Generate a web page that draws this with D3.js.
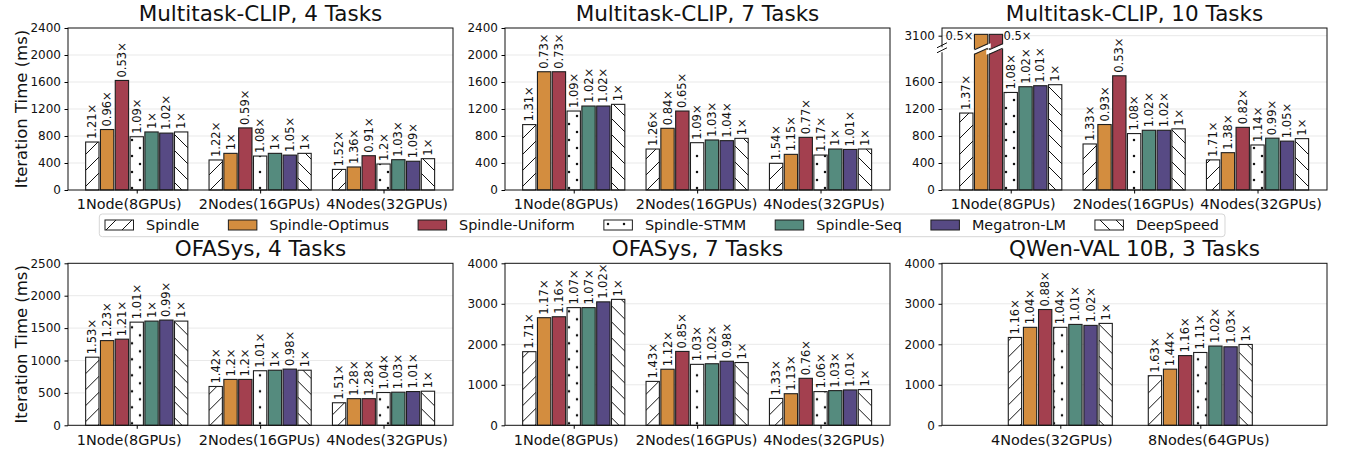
<!DOCTYPE html>
<html>
<head>
<meta charset="utf-8">
<script src="https://cdn.jsdelivr.net/npm/d3@7"></script>
<style>
  body { margin: 0; background: #fff; }
  svg { display: block; font-family: "DejaVu Sans", sans-serif; }
</style>
</head>
<body>
<svg id="chart"></svg>
<script>
const width = 1346;
const height = 451;

// ---------- data ----------
const series = ["Spindle", "Spindle-Optimus", "Spindle-Uniform", "Spindle-STMM", "Spindle-Seq", "Megatron-LM", "DeepSpeed"];

const nodeGroups3 = ["1Node(8GPUs)", "2Nodes(16GPUs)", "4Nodes(32GPUs)"];
const nodeGroupsQwen = ["4Nodes(32GPUs)", "8Nodes(64GPUs)"];

const clip4Times = [
  [711, 896, 1623, 789, 860, 843, 860],
  [445, 543, 920, 503, 543, 517, 543],
  [305, 341, 508, 385, 449, 426, 464]
];
const clip4Labels = [
  ["1.21×", "0.96×", "0.53×", "1.09×", "1×", "1.02×", "1×"],
  ["1.22×", "1×", "0.59×", "1.08×", "1×", "1.05×", "1×"],
  ["1.52×", "1.36×", "0.91×", "1.2×", "1.03×", "1.09×", "1×"]
];

const clip7Times = [
  [969, 1752, 1752, 1170, 1244, 1244, 1269],
  [607, 914, 1170, 701, 741, 731, 765],
  [395, 528, 780, 518, 607, 601, 607]
];
const clip7Labels = [
  ["1.31×", "0.73×", "0.73×", "1.09×", "1.02×", "1.02×", "1×"],
  ["1.26×", "0.84×", "0.65×", "1.09×", "1.03×", "1.04×", "1×"],
  ["1.54×", "1.15×", "0.77×", "1.17×", "1×", "1.01×", "1×"]
];

const clip10Times = [
  [1140, 3120, 3120, 1445, 1530, 1545, 1560],
  [682, 970, 1692, 836, 885, 885, 906],
  [446, 553, 928, 667, 768, 724, 761]
];
const clip10Labels = [
  ["1.37×", "0.5×", "0.5×", "1.08×", "1.02×", "1.01×", "1×"],
  ["1.33×", "0.93×", "0.53×", "1.08×", "1.02×", "1.02×", "1×"],
  ["1.71×", "1.38×", "0.82×", "1.14×", "0.99×", "1.05×", "1×"]
];

const ofa4Times = [
  [1051, 1307, 1329, 1592, 1608, 1624, 1608],
  [599, 708, 708, 842, 850, 867, 850],
  [348, 411, 411, 506, 511, 521, 526]
];
const ofa4Labels = [
  ["1.53×", "1.23×", "1.21×", "1.01×", "1×", "0.99×", "1×"],
  ["1.42×", "1.2×", "1.2×", "1.01×", "1×", "0.98×", "1×"],
  ["1.51×", "1.28×", "1.28×", "1.04×", "1.03×", "1.01×", "1×"]
];

const ofa7Times = [
  [1818, 2657, 2680, 2906, 2906, 3048, 3109],
  [1084, 1384, 1824, 1505, 1520, 1582, 1550],
  [663, 780, 1160, 832, 856, 873, 882]
];
const ofa7Labels = [
  ["1.71×", "1.17×", "1.16×", "1.07×", "1.07×", "1.02×", "1×"],
  ["1.43×", "1.12×", "0.85×", "1.03×", "1.02×", "0.98×", "1×"],
  ["1.33×", "1.13×", "0.76×", "1.06×", "1.03×", "1.01×", "1×"]
];

const qwenTimes = [
  [2169, 2419, 2859, 2419, 2491, 2467, 2516],
  [1225, 1386, 1721, 1798, 1957, 1938, 1996]
];
const qwenLabels = [
  ["1.16×", "1.04×", "0.88×", "1.04×", "1.01×", "1.02×", "1×"],
  ["1.63×", "1.44×", "1.16×", "1.11×", "1.02×", "1.03×", "1×"]
];

const ticks2400 = [0, 400, 800, 1200, 1600, 2000, 2400];
const ticksBroken = [0, 400, 800, 1200, 1600, 3100];
const ticks2500 = [0, 500, 1000, 1500, 2000, 2500];
const ticks4000 = [0, 1000, 2000, 3000, 4000];

// ---------- styles ----------
const fills = ["url(#hatchFwd)", "#D38D3F", "#A3404F", "url(#hatchDots)", "#558B7E", "#574A84", "url(#hatchBack)"];

const svg = d3.select("#chart").attr("width", width).attr("height", height);

const defs = svg.append("defs");
const hatch = 16;
const fwd = defs.append("pattern").attr("id", "hatchFwd").attr("patternUnits", "userSpaceOnUse")
  .attr("width", hatch).attr("height", hatch);
fwd.append("rect").attr("width", hatch).attr("height", hatch).attr("fill", "#fff");
fwd.append("path").attr("d", `M0,${hatch} L${hatch},0 M-4,4 L4,-4 M${hatch - 4},${hatch + 4} L${hatch + 4},${hatch - 4}`)
  .attr("stroke", "#111").attr("stroke-width", 1);
const back = defs.append("pattern").attr("id", "hatchBack").attr("patternUnits", "userSpaceOnUse")
  .attr("width", hatch).attr("height", hatch);
back.append("rect").attr("width", hatch).attr("height", hatch).attr("fill", "#fff");
back.append("path").attr("d", `M0,0 L${hatch},${hatch} M-4,${hatch - 4} L4,${hatch + 4} M${hatch - 4},-4 L${hatch + 4},4`)
  .attr("stroke", "#111").attr("stroke-width", 1);
const dots = defs.append("pattern").attr("id", "hatchDots").attr("patternUnits", "userSpaceOnUse")
  .attr("width", hatch).attr("height", hatch);
dots.append("rect").attr("width", hatch).attr("height", hatch).attr("fill", "#fff");
[[0, 0], [hatch, 0], [0, hatch], [hatch, hatch], [hatch / 2, hatch / 2]].forEach(([cx, cy]) => {
  dots.append("circle").attr("cx", cx).attr("cy", cy).attr("r", 1.25).attr("fill", "#111");
});

// ---------- panels ----------
const panelW = 385;
const panelH = 162;
const lefts = [68, 505, 942];
const tops = [28, 263.3];
const dom3 = [-0.557, 2.563];
// tick labels sit a little off the group centres in the original
const shift3 = [-8, -1, 3];
const shiftQwen = [-9, 8];

function linY(max) {
  return d3.scaleLinear().domain([0, max]).range([panelH, 0]);
}
// broken axis: lower part 0-2100 keeps the 2400 scale, top part holds ~3100
const brokenY = d3.scaleLinear().domain([0, 2100, 2950, 3215]).range([panelH, panelH - 2100 * panelH / 2400, 17.7, 0]);

const panels = [
  { title: "Multitask-CLIP, 4 Tasks", left: lefts[0], top: tops[0], groups: nodeGroups3, times: clip4Times, labels: clip4Labels, y: linY(2400), ticks: ticks2400, xd: dom3, pitch: 0.12, bw: 0.108, shift: shift3, ylabel: true },
  { title: "Multitask-CLIP, 7 Tasks", left: lefts[1], top: tops[0], groups: nodeGroups3, times: clip7Times, labels: clip7Labels, y: linY(2400), ticks: ticks2400, xd: dom3, pitch: 0.12, bw: 0.108, shift: shift3 },
  { title: "Multitask-CLIP, 10 Tasks", left: lefts[2], top: tops[0], groups: nodeGroups3, times: clip10Times, labels: clip10Labels, y: brokenY, ticks: ticksBroken, xd: dom3, pitch: 0.12, bw: 0.108, shift: shift3, broken: 2100 },
  { title: "OFASys, 4 Tasks", left: lefts[0], top: tops[1], groups: nodeGroups3, times: ofa4Times, labels: ofa4Labels, y: linY(2500), ticks: ticks2500, xd: dom3, pitch: 0.12, bw: 0.108, shift: shift3, ylabel: true },
  { title: "OFASys, 7 Tasks", left: lefts[1], top: tops[1], groups: nodeGroups3, times: ofa7Times, labels: ofa7Labels, y: linY(4000), ticks: ticks4000, xd: dom3, pitch: 0.12, bw: 0.108, shift: shift3 },
  { title: "QWen-VAL 10B, 3 Tasks", left: lefts[2], top: tops[1], groups: nodeGroupsQwen, times: qwenTimes, labels: qwenLabels, y: linY(4000), ticks: ticks4000, xd: [-0.845, 1.905], pitch: 0.108, bw: 0.095, shift: shiftQwen }
];

function drawPanel(p) {
  const g = svg.append("g").attr("transform", `translate(${p.left},${p.top})`);
  const x = d3.scaleLinear().domain(p.xd).range([0, panelW]);
  const y = p.y;

  g.append("g").selectAll("line").data(p.ticks.filter(t => t > 0 && y(t) > 0.5)).enter().append("line")
    .attr("x1", 0).attr("x2", panelW).attr("y1", d => y(d)).attr("y2", d => y(d))
    .attr("stroke", "#e9e9e9").attr("stroke-width", 1);

  const bars = [];
  p.times.forEach((row, gi) => row.forEach((v, si) => {
    bars.push({ gi, si, v, label: p.labels[gi][si] });
  }));

  const bw = x(p.bw) - x(0);
  const cx = d => x(d.gi + (d.si - 3) * p.pitch);

  g.append("g").selectAll("rect").data(bars).enter().append("rect")
    .attr("x", d => cx(d) - bw / 2)
    .attr("y", d => y(d.v))
    .attr("width", bw)
    .attr("height", d => panelH - y(d.v))
    .attr("fill", d => fills[d.si])
    .attr("stroke", "#1e1e1e")
    .attr("stroke-width", 1.1);

  if (p.broken) {
    const by = y(p.broken) + 2.5;
    bars.filter(d => d.v > p.broken).forEach(d => {
      const x0 = cx(d) - bw / 2 - 3, x1 = cx(d) + bw / 2 + 3;
      g.append("path")
        .attr("d", `M${x0},${by + 4} L${x1},${by - 3} L${x1},${by - 7.5} L${x0},${by - 0.5} Z`)
        .attr("fill", "#fff").attr("stroke", "none");
      g.append("path")
        .attr("d", `M${x0 + 3},${by + 3.4} L${x1 - 3},${by - 2.4} M${x0 + 3},${by - 1.1} L${x1 - 3},${by - 6.9}`)
        .attr("stroke", "#1e1e1e").attr("stroke-width", 1.1);
    });
  }

  const normal = bars.filter(d => !(p.broken && d.v > p.broken));
  g.append("g").selectAll("text").data(normal).enter().append("text")
    .attr("transform", d => `translate(${cx(d)},${y(d.v) - 3}) rotate(-90)`)
    .attr("dy", "0.35em")
    .attr("font-size", 11.5)
    .attr("fill", "#111")
    .text(d => d.label);

  if (p.broken) {
    bars.filter(d => d.v > p.broken).forEach(d => {
      const left = d.si < 2;
      g.append("text")
        .attr("x", left ? cx(d) - bw / 2 - 1 : cx(d) + bw / 2 + 1)
        .attr("y", y(3100))
        .attr("dy", "0.35em")
        .attr("text-anchor", left ? "end" : "start")
        .attr("font-size", 11.5)
        .attr("fill", "#111")
        .text(d.label);
    });
  }

  // frame
  g.append("rect").attr("width", panelW).attr("height", panelH)
    .attr("fill", "none").attr("stroke", "#111").attr("stroke-width", 1);

  if (p.broken) {
    const by = y(p.broken) + 2;
    g.append("rect").attr("x", -2).attr("y", by - 3).attr("width", 4).attr("height", 5).attr("fill", "#fff");
    g.append("path")
      .attr("d", `M-5,${by + 2.5} L5,${by - 2.5} M-5,${by - 2.5} L5,${by - 7.5}`)
      .attr("stroke", "#111").attr("stroke-width", 1);
  }

  const ya = g.append("g").call(
    d3.axisLeft(y).tickValues(p.ticks).tickSize(3.5).tickPadding(3.5).tickFormat(d3.format("d"))
  );
  ya.select(".domain").remove();
  ya.selectAll("text").attr("font-size", 12).attr("fill", "#111").attr("font-family", "DejaVu Sans");

  const xa = g.append("g").attr("transform", `translate(0,${panelH})`).call(
    d3.axisBottom(x).tickValues(d3.range(p.groups.length)).tickSize(3.5).tickPadding(5.5)
      .tickFormat(i => p.groups[i])
  );
  xa.select(".domain").remove();
  xa.selectAll("text").attr("font-size", 14.4).attr("fill", "#111").attr("font-family", "DejaVu Sans")
    .attr("dx", (d, i) => p.shift[i]);

  g.append("text")
    .attr("x", panelW / 2).attr("y", -7)
    .attr("text-anchor", "middle")
    .attr("font-size", 21.5)
    .attr("fill", "#111")
    .text(p.title);

  if (p.ylabel) {
    g.append("text")
      .attr("transform", `translate(${21 - p.left},${panelH / 2}) rotate(-90)`)
      .attr("dy", "0.35em")
      .attr("text-anchor", "middle")
      .attr("font-size", 16.5)
      .attr("fill", "#111")
      .text("Iteration Time (ms)");
  }
}

panels.forEach(drawPanel);

// ---------- legend ----------
const legend = svg.append("g");
const legBox = legend.append("rect");
let lx = 105;
series.forEach((name, i) => {
  legend.append("rect").attr("x", lx).attr("y", 220).attr("width", 28.5).attr("height", 10)
    .attr("fill", fills[i]).attr("stroke", "#1e1e1e").attr("stroke-width", 1);
  const t = legend.append("text").attr("x", lx + 41).attr("y", 230)
    .attr("font-size", 14.4).attr("fill", "#111").text(name);
  lx += 41 + t.node().getComputedTextLength() + 29;
});
legBox.attr("x", 99.3).attr("y", 214).attr("width", lx - 29 + 6 - 99.3).attr("height", 22.7)
  .attr("rx", 3).attr("fill", "#fff").attr("stroke", "#d6d6d6").attr("stroke-width", 1);
</script>
</body>
</html>
